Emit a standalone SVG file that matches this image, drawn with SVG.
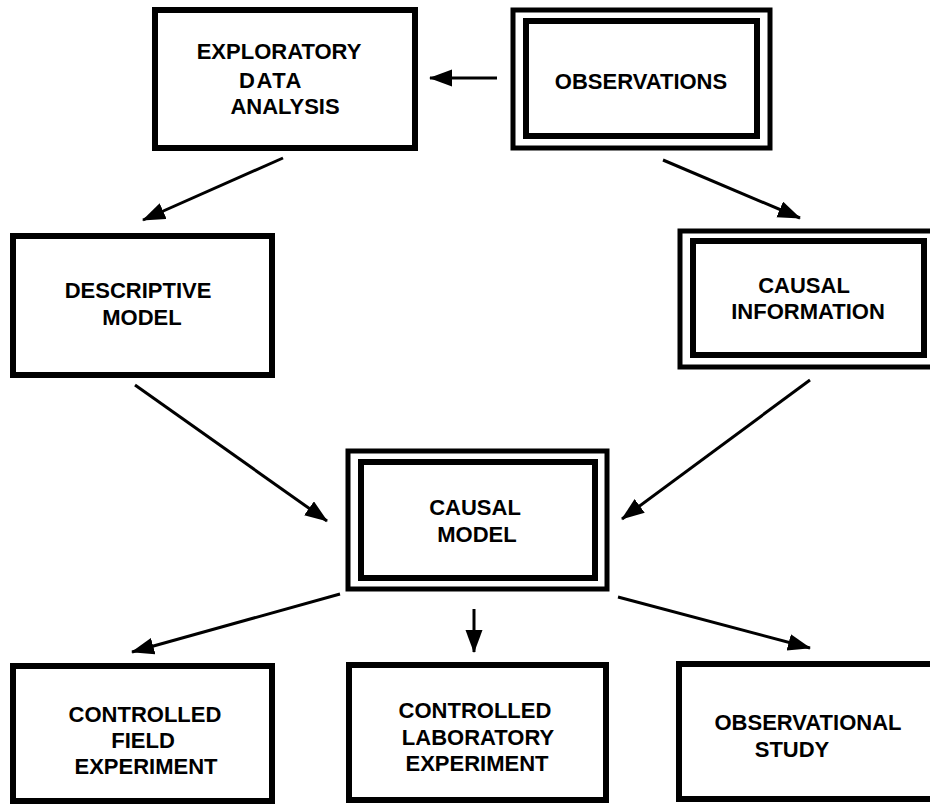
<svg xmlns="http://www.w3.org/2000/svg" width="930" height="804" viewBox="0 0 930 804">
<defs>
<marker id="ah" markerUnits="userSpaceOnUse" markerWidth="24" markerHeight="18" refX="22" refY="8.5" orient="auto">
<path d="M0,0 L23,8.5 L0,17 z" fill="#000"/>
</marker>
<style>
.box{fill:#fff;stroke:#000;stroke-width:6}
.outer{fill:#fff;stroke:#000;stroke-width:5}
.inner{fill:none;stroke:#000;stroke-width:6}
.lbl{font-family:"Liberation Sans",Arial,sans-serif;font-weight:bold;font-size:22px;fill:#000;text-anchor:middle}
.conn line{stroke:#000;stroke-width:3;marker-end:url(#ah)}
</style>
</defs>
<rect width="930" height="804" fill="#fff"/>
<g id="eda">
<rect class="box" x="155" y="10" width="260" height="138"/>
<text class="lbl" x="279" y="59">EXPLORATORY</text>
<text class="lbl" x="271" y="88" letter-spacing="1.5">DATA</text>
<text class="lbl" x="285" y="114">ANALYSIS</text>
</g>
<g id="observations">
<rect class="outer" x="513" y="10" width="257" height="138"/>
<rect class="inner" x="526" y="21" width="231" height="115"/>
<text class="lbl" x="641" y="89">OBSERVATIONS</text>
</g>
<g id="descriptive">
<rect class="box" x="13" y="236" width="259" height="139"/>
<text class="lbl" x="138" y="298">DESCRIPTIVE</text>
<text class="lbl" x="142" y="325">MODEL</text>
</g>
<g id="causal-info">
<rect class="outer" x="680" y="231" width="270" height="136"/>
<rect class="inner" x="693" y="241" width="231" height="114"/>
<text class="lbl" x="804" y="293">CAUSAL</text>
<text class="lbl" x="808" y="319">INFORMATION</text>
</g>
<g id="causal-model">
<rect class="outer" x="348" y="451" width="259" height="138"/>
<rect class="inner" x="361" y="462" width="234" height="116"/>
<text class="lbl" x="475" y="515">CAUSAL</text>
<text class="lbl" x="477" y="542">MODEL</text>
</g>
<g id="field">
<rect class="box" x="13" y="666" width="259" height="135"/>
<text class="lbl" x="145" y="722">CONTROLLED</text>
<text class="lbl" x="143" y="748">FIELD</text>
<text class="lbl" x="146" y="774">EXPERIMENT</text>
</g>
<g id="laboratory">
<rect class="box" x="349" y="665" width="257" height="135"/>
<text class="lbl" x="475" y="718">CONTROLLED</text>
<text class="lbl" x="478" y="745">LABORATORY</text>
<text class="lbl" x="477" y="771">EXPERIMENT</text>
</g>
<g id="observational">
<rect class="box" x="679" y="664" width="270" height="135"/>
<text class="lbl" x="808" y="730">OBSERVATIONAL</text>
<text class="lbl" x="792" y="757">STUDY</text>
</g>
<g id="connectors" class="conn">
<line x1="497" y1="78" x2="430" y2="78"/>
<line x1="283" y1="158" x2="143" y2="220"/>
<line x1="663" y1="160" x2="800" y2="218"/>
<line x1="135" y1="385" x2="327" y2="521"/>
<line x1="810" y1="380" x2="622" y2="519"/>
<line x1="340" y1="594" x2="132" y2="652"/>
<line x1="474" y1="609" x2="474" y2="652"/>
<line x1="618" y1="597" x2="810" y2="648"/>
</g>
</svg>
